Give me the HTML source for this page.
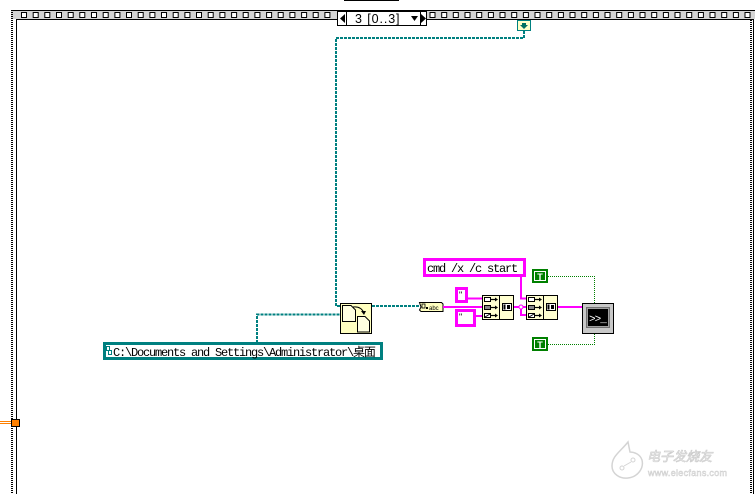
<!DOCTYPE html>
<html>
<head>
<meta charset="utf-8">
<style>
html,body{margin:0;padding:0;background:#fff;}
svg{display:block;}
.mono{font-family:"Liberation Mono","Noto Sans CJK SC",monospace;font-size:12px;letter-spacing:-1.2px;fill:#000;}
</style>
</head>
<body>
<svg width="755" height="494" viewBox="0 0 755 494" xmlns="http://www.w3.org/2000/svg">
<rect width="755" height="494" fill="#fff"/>
<!-- top line -->
<rect x="344" y="0" width="55" height="1" fill="#000"/>
<!-- film band -->
<rect x="11" y="10" width="744" height="9" fill="#d4d4d4"/>
<line x1="11" y1="10.5" x2="755" y2="10.5" stroke="#000"/>
<line x1="16" y1="19.5" x2="753" y2="19.5" stroke="#000"/>
<g fill="#fff" stroke="#000" stroke-width="1">
<rect x="21.5" y="12.5" width="5" height="5"/><rect x="33.2" y="12.5" width="5" height="5"/><rect x="44.8" y="12.5" width="5" height="5"/><rect x="56.5" y="12.5" width="5" height="5"/><rect x="68.2" y="12.5" width="5" height="5"/><rect x="79.8" y="12.5" width="5" height="5"/><rect x="91.5" y="12.5" width="5" height="5"/><rect x="103.2" y="12.5" width="5" height="5"/><rect x="114.9" y="12.5" width="5" height="5"/><rect x="126.5" y="12.5" width="5" height="5"/><rect x="138.2" y="12.5" width="5" height="5"/><rect x="149.9" y="12.5" width="5" height="5"/><rect x="161.5" y="12.5" width="5" height="5"/><rect x="173.2" y="12.5" width="5" height="5"/><rect x="184.9" y="12.5" width="5" height="5"/><rect x="196.5" y="12.5" width="5" height="5"/><rect x="208.2" y="12.5" width="5" height="5"/><rect x="219.9" y="12.5" width="5" height="5"/><rect x="231.6" y="12.5" width="5" height="5"/><rect x="243.2" y="12.5" width="5" height="5"/><rect x="254.9" y="12.5" width="5" height="5"/><rect x="266.6" y="12.5" width="5" height="5"/><rect x="278.2" y="12.5" width="5" height="5"/><rect x="289.9" y="12.5" width="5" height="5"/><rect x="301.6" y="12.5" width="5" height="5"/><rect x="313.2" y="12.5" width="5" height="5"/><rect x="324.9" y="12.5" width="5" height="5"/>
<rect x="430" y="12.5" width="5" height="5"/><rect x="441.7" y="12.5" width="5" height="5"/><rect x="453.3" y="12.5" width="5" height="5"/><rect x="465" y="12.5" width="5" height="5"/><rect x="476.7" y="12.5" width="5" height="5"/><rect x="488.4" y="12.5" width="5" height="5"/><rect x="500" y="12.5" width="5" height="5"/><rect x="511.7" y="12.5" width="5" height="5"/><rect x="523.4" y="12.5" width="5" height="5"/><rect x="535" y="12.5" width="5" height="5"/><rect x="546.7" y="12.5" width="5" height="5"/><rect x="558.4" y="12.5" width="5" height="5"/><rect x="570" y="12.5" width="5" height="5"/><rect x="581.7" y="12.5" width="5" height="5"/><rect x="593.4" y="12.5" width="5" height="5"/><rect x="605" y="12.5" width="5" height="5"/><rect x="616.7" y="12.5" width="5" height="5"/><rect x="628.4" y="12.5" width="5" height="5"/><rect x="640" y="12.5" width="5" height="5"/><rect x="651.7" y="12.5" width="5" height="5"/><rect x="663.4" y="12.5" width="5" height="5"/><rect x="675" y="12.5" width="5" height="5"/><rect x="686.7" y="12.5" width="5" height="5"/><rect x="698.4" y="12.5" width="5" height="5"/><rect x="710" y="12.5" width="5" height="5"/><rect x="721.7" y="12.5" width="5" height="5"/><rect x="733.4" y="12.5" width="5" height="5"/><rect x="745" y="12.5" width="5" height="5"/>
</g>
<!-- left border -->
<line x1="12" y1="10" x2="12" y2="494" stroke="#000" stroke-width="2" stroke-dasharray="1,1"/>
<line x1="16.5" y1="19" x2="16.5" y2="494" stroke="#000"/>
<!-- right border -->
<rect x="750" y="20" width="5" height="474" fill="#fff"/>
<line x1="751" y1="20" x2="751" y2="494" stroke="#000" stroke-width="2" stroke-dasharray="1,1"/>
<line x1="753.5" y1="19" x2="753.5" y2="494" stroke="#000"/>
<!-- orange terminal -->
<line x1="0" y1="421.5" x2="11" y2="421.5" stroke="#ff8000"/>
<line x1="0" y1="423.5" x2="11" y2="423.5" stroke="#ff8000"/>
<rect x="11.5" y="419.5" width="8" height="7" fill="#ff8000" stroke="#000"/>
<!-- case selector -->
<rect x="337.5" y="11.5" width="89" height="14" fill="#fff" stroke="#000"/>
<line x1="346.5" y1="11" x2="346.5" y2="25" stroke="#000"/>
<polygon points="340,18.5 345,14 345,23" fill="#000"/>
<polygon points="426,18.5 421,14 421,23" fill="#000"/>
<line x1="420.5" y1="11" x2="420.5" y2="25" stroke="#000"/>
<text x="355" y="23" font-family="Liberation Sans, sans-serif" font-size="12.5" letter-spacing="0.9" fill="#000">3 [0..3]</text>
<polygon points="411,16 418,16 414.5,21" fill="#000"/>
<!-- tunnel -->
<rect x="517.5" y="20.5" width="13" height="10" fill="#ffffc8" stroke="#008080"/>
<polygon points="522,23 526,23 526,25 528,25 524,29 520,25 522,25" fill="#007060"/>
<!-- teal path wires -->
<g fill="none" stroke="#008080" stroke-width="2" stroke-dasharray="3,1">
<path d="M524,31 V38 H336 V306 H341"/>
<path d="M372,306 H419"/>
<path d="M257,343 V314.5 H340"/>
</g>
<!-- copy node -->
<rect x="340.5" y="303.5" width="31" height="30" fill="#ffffc0" stroke="#000"/>
<path d="M342.5,305.5 H351 L355.5,310 V321.5 H342.5 Z" fill="#ffffe0" stroke="#000"/>
<path d="M357.5,316.5 H365 L369.5,321 V332 H357.5 Z" fill="#ffffe0" stroke="#000"/>
<path d="M353,307 Q361,306 364,313" fill="none" stroke="#000"/>
<polygon points="361,311 366,311 364,315" fill="#000"/>
<!-- path constant -->
<rect x="104.5" y="343.5" width="277" height="15" fill="#fff" stroke="#008080" stroke-width="3"/>
<rect x="106.5" y="346.5" width="3" height="4" fill="none" stroke="#008080"/>
<rect x="108.5" y="350.5" width="3" height="4" fill="none" stroke="#008080"/>
<text class="mono" x="113" y="356">C:\Documents and Settings\Administrator\桌面</text>
<!-- convert node -->
<path d="M419.5,302.5 H441.5 L443,304 V311.5 H421 L419.5,310 L421,307 Z" fill="#ffffc0" stroke="#000"/>
<rect x="422" y="304" width="3" height="4" fill="none" stroke="#000" stroke-width="0.8"/>
<rect x="426" y="307" width="2" height="2" fill="#000"/>
<text x="429" y="310" font-family="Liberation Sans, sans-serif" font-size="6" fill="#000">abc</text>
<!-- pink wires -->
<g fill="none" stroke="#ff00ff" stroke-width="2">
<path d="M443,307 H482"/>
<path d="M468,298.5 H482"/>
<path d="M476,316 H482"/>
<path d="M514,307 H526"/>
<path d="M521,307 V315 H526"/>
<path d="M521,276 V298.5 H526"/>
<path d="M558,307 H582"/>
</g>
<circle cx="521" cy="307" r="2" fill="#fff" stroke="#ff00ff"/>
<!-- cmd constant -->
<rect x="424.5" y="259.5" width="100" height="16" fill="#fff" stroke="#ff00ff" stroke-width="3"/>
<text class="mono" x="427" y="272">cmd /x /c start</text>
<!-- quote constants -->
<rect x="456.5" y="288.5" width="10" height="13" fill="#fff" stroke="#ff00ff" stroke-width="3"/>
<text x="459" y="298" font-family="Liberation Sans, sans-serif" font-size="9" fill="#000">"</text>
<rect x="456.5" y="310.5" width="18" height="15" fill="#fff" stroke="#ff00ff" stroke-width="3"/>
<text x="459" y="320" font-family="Liberation Sans, sans-serif" font-size="9" fill="#000">"</text>
<!-- concat nodes -->
<g id="cc1">
<rect x="482.5" y="295.5" width="31" height="24" fill="#ffffd0" stroke="#000"/>
<line x1="499.5" y1="295" x2="499.5" y2="320" stroke="#000"/>
<rect x="484.5" y="297.5" width="6" height="4" fill="#fff" stroke="#000"/>
<rect x="484.5" y="305.5" width="6" height="4" fill="#888" stroke="#000"/>
<rect x="484.5" y="313.5" width="6" height="4" fill="#fff" stroke="#000"/>
<line x1="485" y1="317" x2="490" y2="314" stroke="#000"/>
<g stroke="#000" stroke-width="1.2"><line x1="491" y1="299.5" x2="496" y2="299.5"/><line x1="491" y1="307.5" x2="496" y2="307.5"/><line x1="491" y1="315.5" x2="496" y2="315.5"/></g>
<polygon points="495,297.5 498,299.5 495,301.5" fill="#000"/>
<polygon points="495,305.5 498,307.5 495,309.5" fill="#000"/>
<polygon points="495,313.5 498,315.5 495,317.5" fill="#000"/>
<rect x="502.5" y="303.5" width="9" height="7" fill="#fff" stroke="#000"/>
<rect x="503.5" y="304.5" width="2" height="5" fill="#000"/>
<rect x="507" y="305" width="3" height="4" fill="#000"/>
</g>
<use href="#cc1" x="44" y="0"/>
<!-- T constants -->
<rect x="532" y="269" width="16" height="14" fill="#008000"/>
<rect x="534.5" y="271.5" width="11" height="9" fill="none" stroke="#fff"/>
<text x="540" y="280" text-anchor="middle" font-family="Liberation Sans, sans-serif" font-size="9" font-weight="bold" fill="#fff">T</text>
<rect x="532" y="337" width="16" height="14" fill="#008000"/>
<rect x="534.5" y="339.5" width="11" height="9" fill="none" stroke="#fff"/>
<text x="540" y="348" text-anchor="middle" font-family="Liberation Sans, sans-serif" font-size="9" font-weight="bold" fill="#fff">T</text>
<!-- green dotted wires -->
<g fill="none" stroke="#008000" stroke-width="1" stroke-dasharray="1,1">
<path d="M548,276.5 H594.5 V303"/>
<path d="M548,344.5 H594.5 V334"/>
</g>
<!-- exec node -->
<rect x="582.5" y="303.5" width="31" height="30" fill="#c8c8c8" stroke="#000"/>
<rect x="586" y="307" width="24" height="21" fill="#707070"/>
<rect x="587.5" y="308.5" width="21" height="18" fill="#000" stroke="#a0a0a0"/>
<text x="589" y="322" font-family="Liberation Mono, monospace" font-size="11" fill="#fff" letter-spacing="-1">&gt;&gt;_</text>
<!-- watermark -->
<g opacity="0.9">
<path d="M628,442 C620,452 612,456 612,466 C612,474 620,479 628,478 C638,477 644,468 642,460 C640,454 634,452 630,452 Z" fill="none" stroke="#d0d0d0" stroke-width="1.5"/>
<circle cx="622" cy="468" r="2" fill="none" stroke="#d0d0d0"/>
<circle cx="633" cy="460" r="2" fill="none" stroke="#d0d0d0"/>
<line x1="624" y1="466" x2="631" y2="462" stroke="#d0d0d0"/>
<text x="647" y="461" font-family="Noto Sans CJK SC, sans-serif" font-size="13" font-style="italic" fill="#fff" stroke="#c8c8c8" stroke-width="0.7">电子发烧友</text>
<text x="648" y="476" font-family="Liberation Sans, sans-serif" font-size="9" fill="#fff" stroke="#c8c8c8" stroke-width="0.5" letter-spacing="0.3">www.elecfans.com</text>
</g>
</svg>
</body>
</html>
